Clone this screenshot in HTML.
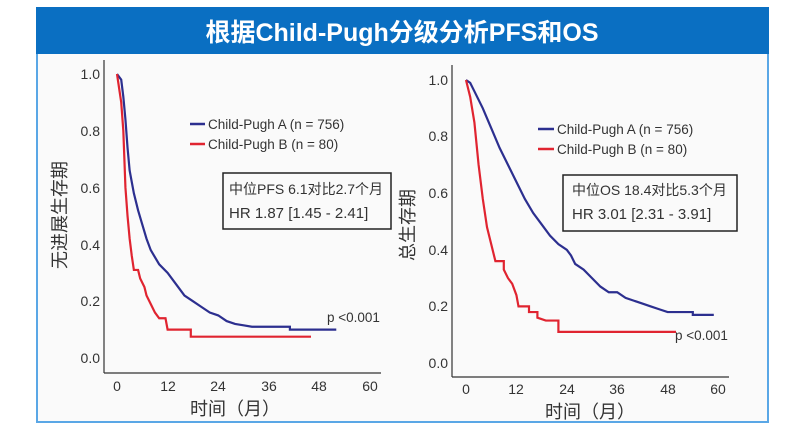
<!DOCTYPE html>
<html><head><meta charset="utf-8"><style>
body{margin:0;background:#fff;}
svg{display:block;font-family:"Liberation Sans","Noto Sans CJK SC",sans-serif;}
</style></head><body>
<svg width="801" height="430" viewBox="0 0 801 430" xmlns="http://www.w3.org/2000/svg">
<rect x="0" y="0" width="801" height="430" fill="#fff"/>
<rect x="37" y="52" width="731" height="370" fill="#fafafa" stroke="#5aa7e6" stroke-width="2"/>
<rect x="36" y="7" width="733" height="47" fill="#0a6fc2"/>
<text x="402" y="41" text-anchor="middle" font-size="25" font-weight="bold" fill="#fff" font-family="Liberation Sans,'Noto Sans CJK SC',sans-serif">根据Child-Pugh分级分析PFS和OS</text>

<g fill="#333" font-size="14" text-anchor="end">
<line x1="104" y1="60" x2="104" y2="373" stroke="#333" stroke-width="1.2"/>
<line x1="104" y1="373" x2="381" y2="373" stroke="#333" stroke-width="1.2"/>
<text x="100" y="79">1.0</text><text x="100" y="136">0.8</text><text x="100" y="193">0.6</text><text x="100" y="250">0.4</text><text x="100" y="306">0.2</text><text x="100" y="363">0.0</text>
<g text-anchor="middle"><text x="117" y="391">0</text><text x="168" y="391">12</text><text x="218" y="391">24</text><text x="269" y="391">36</text><text x="319" y="391">48</text><text x="370" y="391">60</text></g>
<line x1="452" y1="65" x2="452" y2="377" stroke="#333" stroke-width="1.2"/>
<line x1="452" y1="377" x2="729" y2="377" stroke="#333" stroke-width="1.2"/>
<text x="448" y="85">1.0</text><text x="448" y="141">0.8</text><text x="448" y="198">0.6</text><text x="448" y="255">0.4</text><text x="448" y="311">0.2</text><text x="448" y="368">0.0</text>
<g text-anchor="middle"><text x="466" y="394">0</text><text x="516" y="394">12</text><text x="567" y="394">24</text><text x="617" y="394">36</text><text x="668" y="394">48</text><text x="718" y="394">60</text></g>
</g>

<g font-size="18" fill="#333" text-anchor="middle">
<text x="235" y="415">时间（月）</text>
<text x="590" y="418">时间（月）</text>
<text transform="translate(66,215) rotate(-90)">无进展生存期</text>
<text transform="translate(414,225) rotate(-90)">总生存期</text>
</g>

<g transform="translate(117,358) scale(4.217,-284)" fill="none" stroke-width="2.2">
<polyline vector-effect="non-scaling-stroke" stroke="#2c2f8f" points="0,1 1,0.98 1.5,0.92 2,0.84 2.5,0.74 3,0.66 4,0.58 5,0.52 6,0.47 7,0.42 8,0.38 10,0.33 12,0.3 14,0.26 16,0.22 18,0.2 20,0.18 22,0.16 24,0.15 26,0.13 28,0.12 30,0.115 32,0.11 41,0.11 41,0.1 52,0.1"/>
<polyline vector-effect="non-scaling-stroke" stroke="#e02430" points="0,1 0.5,0.95 1,0.9 1.5,0.8 2,0.6 2.5,0.5 3,0.42 3.5,0.36 4,0.31 5,0.31 5.5,0.28 6.5,0.25 7,0.22 8,0.19 9,0.16 10,0.14 11.5,0.14 12,0.1 17.5,0.1 17.5,0.075 46,0.075"/>
</g>
<g transform="translate(466,363) scale(4.2,-283)" fill="none" stroke-width="2.2">
<polyline vector-effect="non-scaling-stroke" stroke="#2c2f8f" points="0,1 1,0.99 2,0.96 4,0.9 6,0.83 8,0.76 10,0.7 12,0.64 14,0.58 16,0.53 18,0.49 20,0.45 22,0.42 24,0.4 25,0.38 26,0.35 28,0.33 30,0.3 32,0.27 34,0.25 36,0.25 38,0.23 40,0.22 42,0.21 44,0.2 46,0.19 48,0.18 54,0.18 54,0.17 59,0.17"/>
<polyline vector-effect="non-scaling-stroke" stroke="#e02430" points="0,1 1,0.94 2,0.85 3,0.7 4,0.58 5,0.48 6,0.42 7,0.36 9,0.36 9,0.33 10,0.3 11,0.28 12,0.24 12.5,0.2 15,0.2 15,0.18 17,0.18 17,0.16 19,0.15 22,0.15 22,0.11 50,0.11"/>
</g>

<g font-size="13.5" fill="#333">
<line x1="190" y1="124" x2="205" y2="124" stroke="#2c2f8f" stroke-width="2.5"/>
<line x1="190" y1="144" x2="205" y2="144" stroke="#e02430" stroke-width="2.5"/>
<text x="208" y="129">Child-Pugh A (n = 756)</text>
<text x="208" y="149">Child-Pugh B (n = 80)</text>
<line x1="538" y1="129" x2="554" y2="129" stroke="#2c2f8f" stroke-width="2.5"/>
<line x1="538" y1="149" x2="554" y2="149" stroke="#e02430" stroke-width="2.5"/>
<text x="557" y="134">Child-Pugh A (n = 756)</text>
<text x="557" y="154">Child-Pugh B (n = 80)</text>
<text x="327" y="322">p &lt;0.001</text>
<text x="675" y="340">p &lt;0.001</text>
</g>

<rect x="223" y="173" width="168" height="56" fill="#fafafa" stroke="#222" stroke-width="1.5"/>
<text x="229" y="194" font-size="14" fill="#333">中位PFS 6.1对比2.7个月</text>
<text x="229" y="218" font-size="15" fill="#333">HR 1.87 [1.45 - 2.41]</text>
<rect x="563" y="175" width="174" height="56" fill="#fafafa" stroke="#222" stroke-width="1.5"/>
<text x="572" y="195" font-size="14" fill="#333">中位OS 18.4对比5.3个月</text>
<text x="572" y="219" font-size="15" fill="#333">HR 3.01 [2.31 - 3.91]</text>
</svg>
</body></html>
